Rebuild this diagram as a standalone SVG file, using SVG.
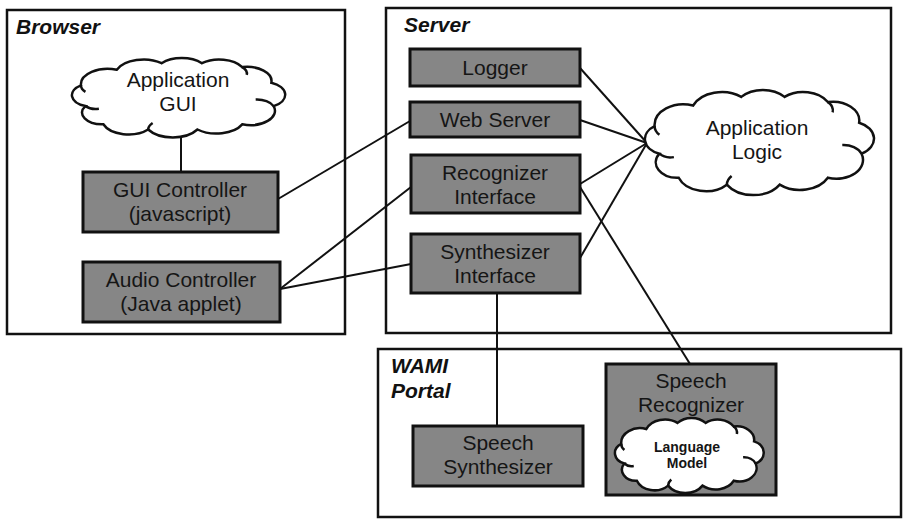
<svg xmlns="http://www.w3.org/2000/svg" xmlns:xlink="http://www.w3.org/1999/xlink" width="907" height="521" viewBox="0 0 907 521">
  <style>
    .frame { fill: #ffffff; stroke: #111; stroke-width: 2.5; }
    .box { fill: #868686; stroke: #111; stroke-width: 3; }
    .cloud { fill: #ffffff; stroke: #111; stroke-width: 2.5; vector-effect: non-scaling-stroke; }
    .curl { fill: none; stroke: #111; stroke-width: 2.5; vector-effect: non-scaling-stroke; }
    .wire { stroke: #111; stroke-width: 2; fill: none; }
    .title { font-family: "Liberation Sans", Arial, sans-serif; font-size: 21px; font-weight: bold; font-style: italic; fill: #111; }
    .label { font-family: "Liberation Sans", Arial, sans-serif; font-size: 21px; fill: #151515; text-anchor: middle; }
    .small { font-family: "Liberation Sans", Arial, sans-serif; font-size: 14px; font-weight: bold; fill: #151515; text-anchor: middle; }
  </style>
  <defs>
    <!-- unit cloud, roughly 96 x 61 after the inner translate -->
    <g id="cloudShape">
      <path class="cloud" d="M10,38 A9,9 0 0 1 8,22 A12,12 0 0 1 24,10 A13,13 0 0 1 44,5 A12,12 0 0 1 62,5 A12,12 0 0 1 80,8 A11,11 0 0 1 93,20 A10,10 0 0 1 94,38 A11,11 0 0 1 80,52 A13,13 0 0 1 60,56 A13,13 0 0 1 38,56 A12,12 0 0 1 18,52 A9,9 0 0 1 10,38 Z"/>
      <path class="curl" d="M10,38 A6,6 0 0 0 16,40"/>
      <path class="curl" d="M8,22 A7,7 0 0 0 10,27"/>
      <path class="curl" d="M80,8 A7,7 0 0 1 82,14"/>
      <path class="curl" d="M94,38 A8,8 0 0 0 86,33"/>
      <path class="curl" d="M38,56 A8,8 0 0 1 40,51"/>
    </g>
  </defs>

  <!-- containers -->
  <g id="browser">
    <rect class="frame" x="7" y="10" width="338" height="324"/>
    <text class="title" x="16" y="34">Browser</text>
  </g>
  <g id="server">
    <rect class="frame" x="386" y="8" width="505" height="325"/>
    <text class="title" x="404" y="32">Server</text>
  </g>
  <g id="wami-portal">
    <rect class="frame" x="378" y="349" width="523" height="168"/>
    <text class="title" x="391" y="373">WAMI</text>
    <text class="title" x="391" y="398">Portal</text>
  </g>

  <!-- connectors -->
  <g id="connectors">
    <line class="wire" x1="181" y1="137" x2="181" y2="172"/>
    <line class="wire" x1="278" y1="199" x2="410" y2="121"/>
    <line class="wire" x1="280" y1="289" x2="411" y2="187"/>
    <line class="wire" x1="280" y1="289" x2="411" y2="264"/>
    <line class="wire" x1="580" y1="68" x2="647" y2="143"/>
    <line class="wire" x1="580" y1="120" x2="647" y2="143"/>
    <line class="wire" x1="580" y1="184" x2="647" y2="143"/>
    <line class="wire" x1="580" y1="258" x2="647" y2="143"/>
    <line class="wire" x1="497" y1="293" x2="497" y2="426"/>
    <line class="wire" x1="580" y1="187" x2="690" y2="364"/>
  </g>

  <!-- browser nodes -->
  <g id="application-gui">
    <use xlink:href="#cloudShape" transform="translate(72,58) scale(2.24,1.30) translate(-4,-1)"/>
    <text class="label" x="178" y="87">Application</text>
    <text class="label" x="178" y="111">GUI</text>
  </g>
  <g id="gui-controller">
    <rect class="box" x="83" y="172" width="195" height="60"/>
    <text class="label" x="180" y="197">GUI Controller</text>
    <text class="label" x="180" y="221">(javascript)</text>
  </g>
  <g id="audio-controller">
    <rect class="box" x="83" y="262" width="197" height="60"/>
    <text class="label" x="181" y="287">Audio Controller</text>
    <text class="label" x="181" y="311">(Java applet)</text>
  </g>

  <!-- server nodes -->
  <g id="logger">
    <rect class="box" x="410" y="49" width="170" height="37"/>
    <text class="label" x="495" y="75">Logger</text>
  </g>
  <g id="web-server">
    <rect class="box" x="410" y="102" width="170" height="35"/>
    <text class="label" x="495" y="127">Web Server</text>
  </g>
  <g id="recognizer-interface">
    <rect class="box" x="411" y="155" width="169" height="58"/>
    <text class="label" x="495" y="180">Recognizer</text>
    <text class="label" x="495" y="204">Interface</text>
  </g>
  <g id="synthesizer-interface">
    <rect class="box" x="411" y="234" width="169" height="59"/>
    <text class="label" x="495" y="259">Synthesizer</text>
    <text class="label" x="495" y="283">Interface</text>
  </g>
  <g id="application-logic">
    <use xlink:href="#cloudShape" transform="translate(645,90) scale(2.406,1.721) translate(-4,-1)"/>
    <text class="label" x="757" y="135">Application</text>
    <text class="label" x="757" y="159">Logic</text>
  </g>

  <!-- portal nodes -->
  <g id="speech-synthesizer">
    <rect class="box" x="413" y="426" width="170" height="60"/>
    <text class="label" x="498" y="450">Speech</text>
    <text class="label" x="498" y="474">Synthesizer</text>
  </g>
  <g id="speech-recognizer">
    <rect class="box" x="606" y="364" width="170" height="131"/>
    <text class="label" x="691" y="388">Speech</text>
    <text class="label" x="691" y="412">Recognizer</text>
    <g id="language-model">
      <use xlink:href="#cloudShape" transform="translate(615,418) scale(1.5625,1.23) translate(-4,-1)"/>
      <text class="small" x="687" y="452">Language</text>
      <text class="small" x="687" y="468">Model</text>
    </g>
  </g>
</svg>
